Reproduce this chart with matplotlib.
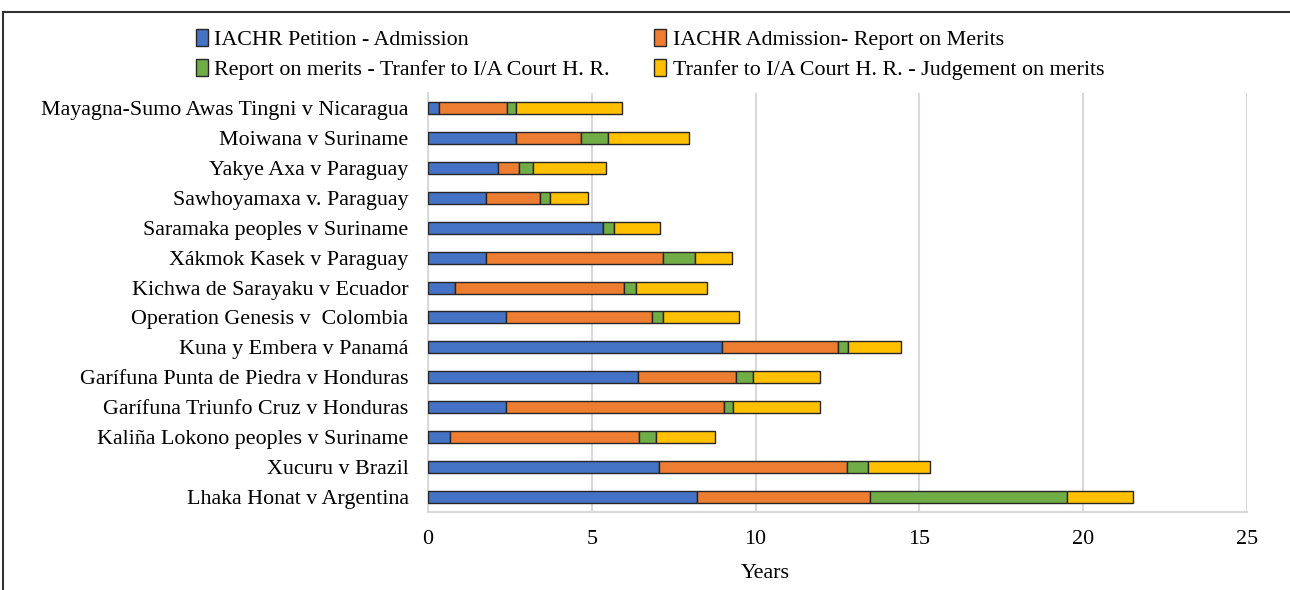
import matplotlib.pyplot as plt
import numpy as np
from matplotlib.patches import Rectangle

cases = ["Mayagna-Sumo Awas Tingni v Nicaragua", "Moiwana v Suriname",
         "Yakye Axa v Paraguay", "Sawhoyamaxa v. Paraguay",
         "Saramaka peoples v Suriname", "Xákmok Kasek v Paraguay",
         "Kichwa de Sarayaku v Ecuador", "Operation Genesis v  Colombia",
         "Kuna y Embera v Panamá", "Garífuna Punta de Piedra v Honduras",
         "Garífuna Triunfo Cruz v Honduras", "Kaliña Lokono peoples v Suriname",
         "Xucuru v Brazil", "Lhaka Honat v Argentina"]

petition_admission = [0.35, 2.70, 2.13, 1.76, 5.35, 1.76, 0.81, 2.39, 8.96, 6.40, 2.37, 0.66, 7.04, 8.22]
admission_merits = [2.07, 1.98, 0.66, 1.67, 0.0, 5.42, 5.18, 4.44, 3.54, 3.00, 6.67, 5.77, 5.75, 5.28]
merits_transfer = [0.26, 0.80, 0.40, 0.28, 0.32, 0.96, 0.37, 0.33, 0.31, 0.53, 0.28, 0.53, 0.65, 6.02]
transfer_judgement = [3.24, 2.48, 2.24, 1.16, 1.41, 1.15, 2.17, 2.32, 1.63, 2.03, 2.64, 1.81, 1.87, 2.01]

series_names = ["IACHR Petition - Admission", "IACHR Admission- Report on Merits",
                "Report on merits - Tranfer to I/A Court H. R.",
                "Tranfer to I/A Court H. R. - Judgement on merits"]
colors = ["#4472C4", "#ED7D31", "#70AD47", "#FFC000"]

plt.rcParams['font.family'] = ['Liberation Serif', 'DejaVu Serif']
fs = 15.8

fig = plt.figure(figsize=(12.9, 5.9), dpi=100)
ax = fig.add_axes([428/1290, 1 - 512/590, 819/1290, 419/590])

y = np.arange(len(cases))
left = np.zeros(len(cases))
handles = []
for vals, name, c in zip([petition_admission, admission_merits, merits_transfer, transfer_judgement],
                         series_names, colors):
    vals = np.array(vals)
    b = ax.barh(y, vals, left=left, height=0.4, color=c, edgecolor="#262626",
                linewidth=1.0, label=name, zorder=3)
    handles.append(b)
    left += vals

ax.set_xlim(0, 25)
ax.set_ylim(len(cases) - 0.5, -0.5)
ax.set_yticks(y)
ax.set_yticklabels(cases, fontsize=fs)
ax.set_xticks(np.arange(0, 26, 5))
ax.tick_params(axis='x', labelsize=fs, length=0, pad=13)
ax.tick_params(axis='y', length=0, pad=14)
ax.grid(axis='x', color="#D9D9D9", linewidth=1.5, zorder=0)
for s in ['top', 'right']:
    ax.spines[s].set_visible(False)
for s in ['left', 'bottom']:
    ax.spines[s].set_color("#D9D9D9")
    ax.spines[s].set_linewidth(1.5)
ax.set_xlabel("Years", fontsize=fs)
ax.xaxis.set_label_coords((765 - 428) / 819, -(573 - 512) / 419, transform=ax.transAxes)
ax.xaxis.label.set_va('center')

# legend filled row by row like the original
order = [0, 2, 1, 3]
fig.legend(handles=[handles[i] for i in order], labels=[series_names[i] for i in order],
           loc='center', ncol=2, bbox_to_anchor=(650/1290, 1 - 54.5/590), frameon=False,
           fontsize=fs, handlelength=0.55, handleheight=0.85, handletextpad=0.3,
           columnspacing=2.0, labelspacing=0.4)

# figure border (cropped at right and bottom in the original)
fig.patches.append(Rectangle((3/1290, -0.1), 1.2, 1.1 - 12/590, transform=fig.transFigure,
                             fill=False, edgecolor="#333333", linewidth=1.5))

fig.savefig("out.png", dpi=100)
